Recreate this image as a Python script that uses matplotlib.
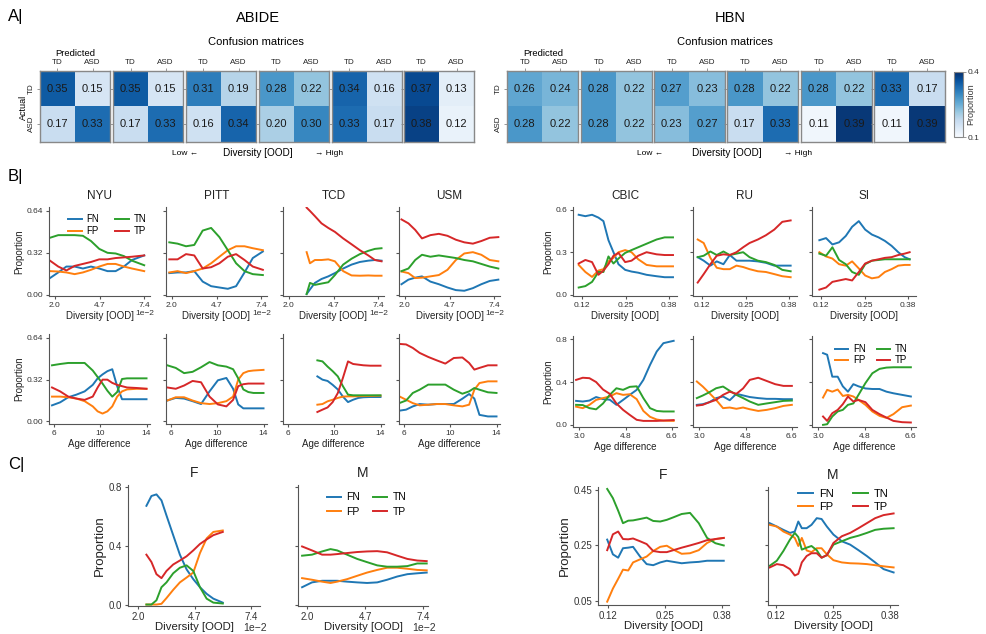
import numpy as np
import matplotlib
matplotlib.use('Agg')
import matplotlib.pyplot as plt
from matplotlib.ticker import ScalarFormatter

plt.rcParams['font.family'] = ['Liberation Sans', 'DejaVu Sans']

W, H = 987, 634
C_FN, C_FP, C_TN, C_TP = '#1f77b4', '#ff7f0e', '#2ca02c', '#d62728'
SPINE = '#555555'

# ---------------- panel A: confusion matrices (rows actual, cols predicted)
cm_labels = ['TD', 'ASD']
abide_cm = [
    [[0.35, 0.15], [0.17, 0.33]],
    [[0.35, 0.15], [0.17, 0.33]],
    [[0.31, 0.19], [0.16, 0.34]],
    [[0.28, 0.22], [0.20, 0.30]],
    [[0.34, 0.16], [0.33, 0.17]],
    [[0.37, 0.13], [0.38, 0.12]],
]
hbn_cm = [
    [[0.26, 0.24], [0.28, 0.22]],
    [[0.28, 0.22], [0.28, 0.22]],
    [[0.27, 0.23], [0.23, 0.27]],
    [[0.28, 0.22], [0.17, 0.33]],
    [[0.28, 0.22], [0.11, 0.39]],
    [[0.33, 0.17], [0.11, 0.39]],
]

# ---------------- panel B, ABIDE sites vs diversity (x in 1e-2)
nyu_div_x = [1.70, 2.20, 2.69, 3.19, 3.69, 4.18, 4.68, 5.18, 5.67, 6.17, 6.66, 7.40]
nyu_div_fn = [0.127, 0.17, 0.215, 0.215, 0.20, 0.215, 0.20, 0.18, 0.18, 0.215, 0.265, 0.30]
nyu_div_fp = [0.18, 0.177, 0.17, 0.157, 0.17, 0.19, 0.215, 0.235, 0.235, 0.215, 0.20, 0.18]
nyu_div_tn = [0.435, 0.455, 0.455, 0.455, 0.45, 0.41, 0.35, 0.32, 0.315, 0.295, 0.26, 0.225]
nyu_div_tp = [0.26, 0.215, 0.185, 0.22, 0.235, 0.25, 0.27, 0.27, 0.28, 0.285, 0.29, 0.30]

pitt_div_x = [1.84, 2.34, 2.85, 3.35, 3.86, 4.37, 4.87, 5.38, 5.88, 6.39, 6.89, 7.50]
pitt_div_fn = [0.165, 0.17, 0.17, 0.18, 0.10, 0.065, 0.055, 0.045, 0.065, 0.17, 0.28, 0.33]
pitt_div_fp = [0.17, 0.18, 0.165, 0.18, 0.20, 0.24, 0.29, 0.34, 0.37, 0.37, 0.355, 0.34]
pitt_div_tn = [0.40, 0.39, 0.37, 0.38, 0.49, 0.51, 0.44, 0.34, 0.24, 0.18, 0.157, 0.15]
pitt_div_tp = [0.27, 0.27, 0.31, 0.30, 0.20, 0.21, 0.24, 0.29, 0.31, 0.265, 0.215, 0.19]

tcd_div_x = [3.07, 3.27, 3.57, 3.97, 4.38, 4.78, 5.28, 5.79, 6.29, 6.80, 7.20, 7.60]
tcd_div_fn = [0.005, 0.04, 0.09, 0.12, 0.14, 0.165, 0.20, 0.23, 0.25, 0.26, 0.265, 0.26]
tcd_div_fp = [0.325, 0.24, 0.265, 0.265, 0.27, 0.255, 0.18, 0.147, 0.145, 0.147, 0.145, 0.145]
tcd_div_tn = [0.005, 0.09, 0.075, 0.085, 0.095, 0.15, 0.23, 0.275, 0.31, 0.335, 0.35, 0.355]
tcd_div_tp = [0.665, 0.64, 0.60, 0.545, 0.51, 0.48, 0.43, 0.385, 0.34, 0.30, 0.265, 0.255]

usm_div_x = [1.79, 2.21, 2.62, 3.03, 3.54, 4.05, 4.57, 5.08, 5.59, 6.11, 6.62, 7.13, 7.65]
usm_div_fn = [0.08, 0.115, 0.13, 0.14, 0.10, 0.08, 0.055, 0.035, 0.03, 0.05, 0.08, 0.105, 0.115]
usm_div_fp = [0.177, 0.165, 0.127, 0.13, 0.14, 0.15, 0.19, 0.265, 0.315, 0.325, 0.305, 0.265, 0.255]
usm_div_tn = [0.18, 0.20, 0.265, 0.305, 0.29, 0.30, 0.29, 0.28, 0.265, 0.255, 0.235, 0.215, 0.20]
usm_div_tp = [0.575, 0.545, 0.495, 0.43, 0.455, 0.465, 0.45, 0.42, 0.40, 0.39, 0.41, 0.435, 0.44]

# ---------------- panel B, HBN sites vs diversity
cbic_div_x = [0.110, 0.130, 0.150, 0.169, 0.184, 0.199, 0.214, 0.229, 0.249, 0.268, 0.288, 0.313, 0.343, 0.367, 0.392]
cbic_div_fn = [0.565, 0.555, 0.565, 0.545, 0.52, 0.385, 0.30, 0.215, 0.175, 0.163, 0.155, 0.14, 0.13, 0.123, 0.123]
cbic_div_fp = [0.21, 0.16, 0.125, 0.17, 0.18, 0.235, 0.26, 0.30, 0.315, 0.30, 0.25, 0.21, 0.20, 0.20, 0.20]
cbic_div_tn = [0.05, 0.06, 0.09, 0.16, 0.16, 0.27, 0.22, 0.255, 0.295, 0.315, 0.335, 0.36, 0.39, 0.405, 0.405]
cbic_div_tp = [0.22, 0.245, 0.23, 0.14, 0.17, 0.215, 0.275, 0.295, 0.23, 0.24, 0.275, 0.30, 0.285, 0.28, 0.28]

ru_div_x = [0.107, 0.125, 0.145, 0.164, 0.184, 0.203, 0.223, 0.243, 0.262, 0.287, 0.311, 0.336, 0.360, 0.385]
ru_div_fn = [0.265, 0.24, 0.205, 0.235, 0.215, 0.28, 0.24, 0.24, 0.24, 0.235, 0.225, 0.205, 0.205, 0.205]
ru_div_fp = [0.39, 0.365, 0.26, 0.19, 0.18, 0.18, 0.205, 0.195, 0.18, 0.165, 0.16, 0.145, 0.13, 0.123]
ru_div_tn = [0.265, 0.275, 0.305, 0.28, 0.305, 0.28, 0.29, 0.30, 0.265, 0.24, 0.23, 0.21, 0.175, 0.165]
ru_div_tp = [0.085, 0.145, 0.215, 0.275, 0.285, 0.28, 0.30, 0.335, 0.365, 0.39, 0.42, 0.46, 0.515, 0.525]

si_div_x = [0.115, 0.135, 0.154, 0.174, 0.194, 0.213, 0.233, 0.252, 0.272, 0.292, 0.311, 0.331, 0.351, 0.370, 0.385]
si_div_fn = [0.385, 0.40, 0.355, 0.37, 0.415, 0.48, 0.52, 0.46, 0.425, 0.405, 0.38, 0.345, 0.30, 0.265, 0.25]
si_div_fp = [0.30, 0.27, 0.255, 0.215, 0.205, 0.235, 0.185, 0.135, 0.115, 0.123, 0.16, 0.18, 0.205, 0.21, 0.21]
si_div_tn = [0.29, 0.275, 0.335, 0.245, 0.215, 0.16, 0.14, 0.215, 0.24, 0.245, 0.25, 0.25, 0.25, 0.25, 0.25]
si_div_tp = [0.035, 0.05, 0.09, 0.10, 0.11, 0.10, 0.16, 0.22, 0.24, 0.25, 0.26, 0.265, 0.28, 0.29, 0.30]

# ---------------- panel B, ABIDE sites vs age difference
nyu_age_x = [5.86, 6.56, 7.26, 7.96, 8.67, 9.37, 9.79, 10.21, 10.63, 11.05, 11.47, 11.89, 12.32, 13.16, 14.0]
nyu_age_fn = [0.123, 0.146, 0.185, 0.205, 0.23, 0.28, 0.33, 0.36, 0.385, 0.40, 0.27, 0.17, 0.17, 0.17, 0.17]
nyu_age_fp = [0.19, 0.19, 0.185, 0.175, 0.155, 0.115, 0.077, 0.06, 0.077, 0.115, 0.19, 0.23, 0.245, 0.25, 0.25]
nyu_age_tn = [0.43, 0.44, 0.448, 0.448, 0.448, 0.39, 0.34, 0.29, 0.235, 0.19, 0.225, 0.325, 0.33, 0.33, 0.33]
nyu_age_tp = [0.26, 0.23, 0.19, 0.175, 0.165, 0.19, 0.26, 0.32, 0.32, 0.295, 0.28, 0.27, 0.26, 0.256, 0.25]

pitt_age_x = [5.71, 6.44, 7.16, 7.89, 8.62, 9.35, 10.07, 10.80, 11.38, 11.82, 12.26, 12.69, 13.13, 14.0]
pitt_age_fn = [0.16, 0.18, 0.175, 0.155, 0.133, 0.23, 0.315, 0.333, 0.25, 0.13, 0.10, 0.10, 0.10, 0.10]
pitt_age_fp = [0.16, 0.185, 0.185, 0.16, 0.14, 0.133, 0.14, 0.155, 0.19, 0.32, 0.37, 0.385, 0.39, 0.395]
pitt_age_tn = [0.43, 0.41, 0.37, 0.38, 0.415, 0.455, 0.43, 0.42, 0.40, 0.33, 0.245, 0.225, 0.218, 0.218]
pitt_age_tp = [0.26, 0.25, 0.275, 0.31, 0.30, 0.19, 0.13, 0.115, 0.165, 0.27, 0.285, 0.29, 0.29, 0.29]

tcd_age_x = [8.56, 9.00, 9.44, 9.88, 10.32, 10.76, 11.20, 11.64, 12.09, 12.53, 13.11, 14.0]
tcd_age_fn = [0.345, 0.32, 0.31, 0.28, 0.245, 0.19, 0.148, 0.166, 0.18, 0.185, 0.187, 0.187]
tcd_age_fp = [0.128, 0.133, 0.154, 0.166, 0.18, 0.19, 0.192, 0.192, 0.193, 0.194, 0.195, 0.197]
tcd_age_tn = [0.468, 0.46, 0.42, 0.385, 0.345, 0.27, 0.205, 0.20, 0.20, 0.20, 0.20, 0.20]
tcd_age_tp = [0.072, 0.09, 0.107, 0.148, 0.217, 0.333, 0.46, 0.44, 0.435, 0.43, 0.427, 0.427]

usm_age_x = [5.62, 6.21, 6.79, 7.38, 8.12, 8.85, 9.59, 10.32, 11.06, 11.64, 12.09, 12.53, 13.26, 14.0]
usm_age_fn = [0.082, 0.09, 0.115, 0.133, 0.128, 0.133, 0.133, 0.133, 0.174, 0.21, 0.175, 0.05, 0.038, 0.038]
usm_age_fp = [0.192, 0.166, 0.14, 0.123, 0.128, 0.133, 0.133, 0.123, 0.115, 0.128, 0.243, 0.294, 0.307, 0.307]
usm_age_tn = [0.14, 0.16, 0.218, 0.243, 0.282, 0.282, 0.282, 0.243, 0.212, 0.23, 0.256, 0.243, 0.223, 0.218]
usm_age_tp = [0.594, 0.59, 0.563, 0.525, 0.494, 0.468, 0.443, 0.486, 0.49, 0.448, 0.397, 0.41, 0.43, 0.43]

# ---------------- panel B, HBN sites vs age difference
cbic_age_x = [2.87, 3.13, 3.39, 3.65, 3.92, 4.18, 4.44, 4.70, 4.96, 5.23, 5.49, 5.75, 6.01, 6.27, 6.67]
cbic_age_fn = [0.224, 0.218, 0.227, 0.26, 0.24, 0.235, 0.187, 0.233, 0.28, 0.327, 0.42, 0.56, 0.685, 0.763, 0.785]
cbic_age_fp = [0.17, 0.156, 0.187, 0.233, 0.25, 0.265, 0.296, 0.28, 0.286, 0.24, 0.13, 0.075, 0.05, 0.04, 0.037]
cbic_age_tn = [0.187, 0.185, 0.156, 0.145, 0.20, 0.28, 0.342, 0.327, 0.355, 0.36, 0.25, 0.156, 0.13, 0.125, 0.125]
cbic_age_tp = [0.42, 0.44, 0.436, 0.40, 0.33, 0.29, 0.20, 0.14, 0.093, 0.047, 0.037, 0.037, 0.037, 0.04, 0.045]

ru_age_x = [2.90, 3.13, 3.39, 3.65, 3.92, 4.18, 4.44, 4.70, 4.96, 5.29, 5.62, 5.95, 6.27, 6.60]
ru_age_fn = [0.187, 0.193, 0.212, 0.25, 0.265, 0.23, 0.29, 0.275, 0.26, 0.25, 0.243, 0.243, 0.24, 0.24]
ru_age_fp = [0.405, 0.358, 0.296, 0.233, 0.156, 0.162, 0.15, 0.162, 0.146, 0.13, 0.14, 0.156, 0.177, 0.187]
ru_age_tn = [0.25, 0.274, 0.305, 0.342, 0.358, 0.318, 0.28, 0.25, 0.218, 0.187, 0.20, 0.212, 0.224, 0.227]
ru_age_tp = [0.18, 0.187, 0.212, 0.233, 0.28, 0.31, 0.29, 0.34, 0.42, 0.44, 0.41, 0.38, 0.364, 0.364]

si_age_x = [3.18, 3.34, 3.54, 3.75, 3.95, 4.15, 4.36, 4.56, 4.83, 5.10, 5.38, 5.65, 5.92, 6.26, 6.60]
si_age_fn = [0.67, 0.655, 0.45, 0.45, 0.36, 0.31, 0.38, 0.36, 0.34, 0.335, 0.335, 0.31, 0.295, 0.28, 0.265]
si_age_fp = [0.255, 0.327, 0.31, 0.33, 0.27, 0.28, 0.265, 0.233, 0.187, 0.125, 0.084, 0.065, 0.10, 0.165, 0.18]
si_age_tn = [0.0, 0.006, 0.078, 0.125, 0.14, 0.187, 0.20, 0.28, 0.39, 0.482, 0.523, 0.535, 0.538, 0.538, 0.538]
si_age_tp = [0.078, 0.037, 0.109, 0.14, 0.193, 0.265, 0.218, 0.233, 0.212, 0.14, 0.10, 0.068, 0.037, 0.025, 0.022]

# ---------------- panel C, sex split vs diversity
abide_f_x = [2.40, 2.64, 2.88, 3.12, 3.36, 3.68, 4.00, 4.32, 4.64, 4.96, 5.28, 5.60, 6.05]
abide_f_fn = [0.673, 0.74, 0.751, 0.71, 0.607, 0.473, 0.34, 0.24, 0.173, 0.118, 0.073, 0.04, 0.013]
abide_f_fp = [0.0, 0.0, 0.0, 0.005, 0.044, 0.10, 0.151, 0.184, 0.218, 0.351, 0.451, 0.495, 0.505]
abide_f_tn = [0.0, 0.0, 0.029, 0.118, 0.151, 0.213, 0.251, 0.267, 0.229, 0.118, 0.04, 0.013, 0.007]
abide_f_tp = [0.34, 0.29, 0.207, 0.18, 0.229, 0.273, 0.30, 0.329, 0.369, 0.413, 0.444, 0.473, 0.495]

abide_m_x = [1.77, 2.23, 2.70, 3.09, 3.40, 3.86, 4.33, 4.79, 5.26, 5.72, 6.19, 6.66, 7.12, 7.56]
abide_m_fn = [0.118, 0.151, 0.162, 0.162, 0.162, 0.156, 0.151, 0.147, 0.151, 0.169, 0.191, 0.207, 0.213, 0.218]
abide_m_fp = [0.18, 0.169, 0.156, 0.147, 0.156, 0.173, 0.196, 0.218, 0.236, 0.251, 0.251, 0.244, 0.236, 0.233]
abide_m_tn = [0.333, 0.34, 0.362, 0.378, 0.369, 0.34, 0.311, 0.289, 0.267, 0.258, 0.258, 0.262, 0.28, 0.28]
abide_m_tp = [0.396, 0.369, 0.34, 0.34, 0.344, 0.351, 0.358, 0.362, 0.364, 0.356, 0.333, 0.311, 0.30, 0.296]

hbn_f_x = [0.118, 0.131, 0.143, 0.154, 0.166, 0.177, 0.193, 0.208, 0.223, 0.239, 0.254, 0.269, 0.288, 0.307, 0.327, 0.346, 0.365, 0.384]
hbn_f_fn = [0.271, 0.218, 0.206, 0.24, 0.242, 0.245, 0.21, 0.183, 0.179, 0.189, 0.195, 0.191, 0.186, 0.189, 0.191, 0.195, 0.195, 0.195]
hbn_f_fp = [0.048, 0.095, 0.13, 0.163, 0.16, 0.189, 0.20, 0.21, 0.23, 0.245, 0.249, 0.235, 0.22, 0.222, 0.233, 0.259, 0.273, 0.277]
hbn_f_tn = [0.453, 0.42, 0.375, 0.33, 0.339, 0.34, 0.345, 0.35, 0.338, 0.336, 0.342, 0.351, 0.363, 0.367, 0.33, 0.277, 0.258, 0.25]
hbn_f_tp = [0.233, 0.29, 0.30, 0.273, 0.272, 0.275, 0.265, 0.255, 0.23, 0.226, 0.226, 0.233, 0.242, 0.25, 0.259, 0.269, 0.273, 0.277]

hbn_m_x = [0.106, 0.122, 0.137, 0.152, 0.163, 0.171, 0.179, 0.190, 0.201, 0.213, 0.224, 0.236, 0.251, 0.270, 0.289, 0.308, 0.327, 0.346, 0.365, 0.388]
hbn_m_fn = [0.33, 0.318, 0.306, 0.295, 0.30, 0.336, 0.312, 0.312, 0.324, 0.348, 0.345, 0.318, 0.289, 0.265, 0.253, 0.233, 0.212, 0.189, 0.165, 0.153]
hbn_m_fp = [0.324, 0.318, 0.30, 0.289, 0.277, 0.248, 0.277, 0.232, 0.226, 0.24, 0.24, 0.218, 0.197, 0.189, 0.186, 0.185, 0.183, 0.179, 0.175, 0.171]
hbn_m_tn = [0.177, 0.195, 0.23, 0.271, 0.295, 0.28, 0.235, 0.242, 0.248, 0.233, 0.206, 0.215, 0.253, 0.265, 0.277, 0.285, 0.295, 0.306, 0.31, 0.312]
hbn_m_tp = [0.171, 0.183, 0.179, 0.165, 0.142, 0.148, 0.189, 0.212, 0.222, 0.222, 0.206, 0.215, 0.259, 0.283, 0.295, 0.312, 0.33, 0.348, 0.359, 0.365]


def px_axes(fig, x, y, w, h):
    return fig.add_axes([x / W, 1 - (y + h) / H, w / W, h / H])


def ftext(fig, x, y, s, **kw):
    kw.setdefault('ha', 'center')
    kw.setdefault('va', 'center')
    fig.text(x / W, 1 - y / H, s, **kw)


def draw_cm(ax, m, first):
    im = ax.imshow(np.array(m), cmap='Blues', vmin=0.1, vmax=0.4, aspect='auto')
    for i in range(2):
        for j in range(2):
            ax.text(j, i, f'{m[i][j]:.2f}', ha='center', va='center',
                    fontsize=8, color='#1a1a1a')
    ax.xaxis.tick_top()
    ax.set_xticks([0, 1])
    ax.set_xticklabels(cm_labels, fontsize=5.8, color='#222222')
    ax.set_yticks([0, 1])
    if first:
        ax.set_yticklabels(cm_labels, fontsize=5.8, rotation=90, va='center', color='#222222')
    else:
        ax.set_yticklabels([])
    ax.tick_params(length=2, width=0.6, pad=1.5, color='#888888')
    for s in ax.spines.values():
        s.set_color('#888888')
        s.set_linewidth(1.0)
    return im


def draw_lines(ax, x, fn, fp, tn, tp, scale=1.0):
    xs = np.array(x) * scale
    ax.plot(xs, fn, color=C_FN, lw=1.4, label='FN')
    ax.plot(xs, fp, color=C_FP, lw=1.4, label='FP')
    ax.plot(xs, tn, color=C_TN, lw=1.4, label='TN')
    ax.plot(xs, tp, color=C_TP, lw=1.4, label='TP')


def style(ax, xlim, xticks, xticklabels, ylim, yticks, yticklabels, first,
          xlabel, fs_tick, fs_lab, fs_ylab=None, xpad=2):
    ax.set_xlim(xlim)
    ax.set_ylim(ylim)
    ax.set_xticks(xticks)
    if xticklabels is None:
        # diversity axis in units of 1e-2, offset drawn by hand below
        fmt = ScalarFormatter()
        fmt.set_powerlimits((0, 0))
        ax.xaxis.set_major_formatter(fmt)
        ax.xaxis.offsetText.set_visible(False)
    else:
        ax.set_xticklabels(xticklabels)
    ax.set_yticks(yticks)
    if first:
        ax.set_yticklabels(yticklabels)
        ax.set_ylabel('Proportion', fontsize=fs_ylab or fs_lab, labelpad=2, color='#222222')
    else:
        ax.set_yticklabels([])
    ax.set_xlabel(xlabel, fontsize=fs_lab, labelpad=xpad, color='#222222')
    ax.spines['top'].set_visible(False)
    ax.spines['right'].set_visible(False)
    for s in ('left', 'bottom'):
        ax.spines[s].set_color(SPINE)
        ax.spines[s].set_linewidth(0.8)
    ax.tick_params(length=2.5, width=0.8, pad=1.5, color=SPINE,
                   labelsize=fs_tick, labelcolor='#333333')


def offset_label(ax, x, y, fs, va='top'):
    ax.text(x, y, '1e\u22122', transform=ax.transAxes, ha='right', va=va,
            fontsize=fs, color='#333333')


def legend(ax, anchor, fs, spacing, colsp):
    ax.legend(loc='upper left', bbox_to_anchor=anchor, ncol=2, frameon=False,
              fontsize=fs, borderpad=0, borderaxespad=0, handlelength=1.4,
              handletextpad=0.5, columnspacing=colsp, labelspacing=spacing)


fig = plt.figure(figsize=(W / 100, H / 100), dpi=100)

# ---------------- panel A
ftext(fig, 8, 17, 'A|', fontsize=12, ha='left')
ftext(fig, 258, 18, 'ABIDE', fontsize=10.5)
ftext(fig, 730, 18, 'HBN', fontsize=10.5)
ftext(fig, 256, 42, 'Confusion matrices', fontsize=8)
ftext(fig, 725, 42, 'Confusion matrices', fontsize=8)
ftext(fig, 75, 53, 'Predicted', fontsize=6.8)
ftext(fig, 543, 53, 'Predicted', fontsize=6.8)
ftext(fig, 23, 107, 'Actual', fontsize=6.5, rotation=90)

abide_left = [40, 113, 186, 259, 332, 404]
hbn_left = [507, 581, 654, 727, 801, 874]
for i, m in enumerate(abide_cm):
    ax = px_axes(fig, abide_left[i], 71, 70, 71)
    draw_cm(ax, m, i == 0)
for i, m in enumerate(hbn_cm):
    ax = px_axes(fig, hbn_left[i], 71, 71, 71)
    im = draw_cm(ax, m, i == 0)

cax = px_axes(fig, 954, 72, 9, 65)
cb = fig.colorbar(im, cax=cax, ticks=[0.1, 0.4])
cb.ax.set_yticklabels(['0.1', '0.4'])
cb.ax.tick_params(labelsize=6, length=2, width=0.6, pad=1, color='#888888', labelcolor='#333333')
cb.outline.set_edgecolor('#888888')
cb.outline.set_linewidth(0.8)
cax.text(1.85, 0.5, 'Proportion', transform=cax.transAxes, rotation=90,
         ha='center', va='center', fontsize=6.5, color='#333333')

for xl, xc, xr in ((185, 258, 329), (650, 727, 798)):
    ftext(fig, xl, 153, 'Low \u2190', fontsize=6)
    ftext(fig, xc, 153, 'Diversity [OOD]', fontsize=7.2)
    ftext(fig, xr, 153, '\u2192 High', fontsize=6)

# ---------------- panel B
ftext(fig, 8, 177, 'B|', fontsize=12, ha='left')

abide_sites = ['NYU', 'PITT', 'TCD', 'USM']
abide_div = [
    (nyu_div_x, nyu_div_fn, nyu_div_fp, nyu_div_tn, nyu_div_tp),
    (pitt_div_x, pitt_div_fn, pitt_div_fp, pitt_div_tn, pitt_div_tp),
    (tcd_div_x, tcd_div_fn, tcd_div_fp, tcd_div_tn, tcd_div_tp),
    (usm_div_x, usm_div_fn, usm_div_fp, usm_div_tn, usm_div_tp),
]
abide_age = [
    (nyu_age_x, nyu_age_fn, nyu_age_fp, nyu_age_tn, nyu_age_tp),
    (pitt_age_x, pitt_age_fn, pitt_age_fp, pitt_age_tn, pitt_age_tp),
    (tcd_age_x, tcd_age_fn, tcd_age_fp, tcd_age_tn, tcd_age_tp),
    (usm_age_x, usm_age_fn, usm_age_fp, usm_age_tn, usm_age_tp),
]
hbn_sites = ['CBIC', 'RU', 'SI']
hbn_div = [
    (cbic_div_x, cbic_div_fn, cbic_div_fp, cbic_div_tn, cbic_div_tp),
    (ru_div_x, ru_div_fn, ru_div_fp, ru_div_tn, ru_div_tp),
    (si_div_x, si_div_fn, si_div_fp, si_div_tn, si_div_tp),
]
hbn_age = [
    (cbic_age_x, cbic_age_fn, cbic_age_fp, cbic_age_tn, cbic_age_tp),
    (ru_age_x, ru_age_fn, ru_age_fp, ru_age_tn, ru_age_tp),
    (si_age_x, si_age_fn, si_age_fp, si_age_tn, si_age_tp),
]

left_x = [49, 166, 283, 399]
right_x = [573, 693, 812]

for i, site in enumerate(abide_sites):
    ax = px_axes(fig, left_x[i], 207, 101, 89)
    draw_lines(ax, *abide_div[i], scale=1e-2)
    style(ax, (0.0164, 0.0775), [0.020, 0.047, 0.074], None, (-0.01, 0.67),
          [0, 0.32, 0.64], ['0.00', '0.32', '0.64'], i == 0, 'Diversity [OOD]', 6, 7)
    offset_label(ax, 1.04, -0.155, 6)
    ax.set_title(site, fontsize=8.5, pad=6, color='#222222')
    if i == 0:
        legend(ax, (0.19, 0.92), 7, 0.22, 1.6)

    ax = px_axes(fig, left_x[i], 334, 101, 90)
    draw_lines(ax, *abide_age[i])
    style(ax, (5.6, 14.3), [6, 10, 14], ['6', '10', '14'], (-0.02, 0.67),
          [0, 0.32, 0.64], ['0.00', '0.32', '0.64'], i == 0, 'Age difference', 6, 7)

for i, site in enumerate(hbn_sites):
    ax = px_axes(fig, right_x[i], 207, 104, 89)
    draw_lines(ax, *hbn_div[i])
    style(ax, (0.093, 0.404), [0.12, 0.25, 0.38], ['0.12', '0.25', '0.38'], (-0.01, 0.62),
          [0, 0.3, 0.6], ['0.0', '0.3', '0.6'], i == 0, 'Diversity [OOD]', 6, 7)
    ax.set_title(site, fontsize=8.5, pad=6, color='#222222')

    ax = px_axes(fig, right_x[i], 336, 104, 91)
    draw_lines(ax, *hbn_age[i])
    style(ax, (2.75, 6.8), [3.0, 4.8, 6.6], ['3.0', '4.8', '6.6'], (-0.02, 0.83),
          [0, 0.4, 0.8], ['0.0', '0.4', '0.8'], i == 0, 'Age difference', 6, 7)
    if i == 2:
        legend(ax, (0.22, 0.91), 7, 0.12, 1.1)

# ---------------- panel C
ftext(fig, 8, 464, 'C|', fontsize=12, ha='left')

ax = px_axes(fig, 128, 485, 132, 121)
draw_lines(ax, abide_f_x, abide_f_fn, abide_f_fp, abide_f_tn, abide_f_tp, scale=1e-2)
style(ax, (0.0152, 0.0783), [0.020, 0.047, 0.074], None, (-0.01, 0.815),
      [0, 0.4, 0.8], ['0.0', '0.4', '0.8'], True, 'Diversity [OOD]', 7, 8.2, 9.5, xpad=0)
offset_label(ax, 1.055, -0.178, 7.5, va='center')
ax.set_title('F', fontsize=10, pad=6, color='#222222')

ax = px_axes(fig, 298, 485, 130, 121)
draw_lines(ax, abide_m_x, abide_m_fn, abide_m_fp, abide_m_tn, abide_m_tp, scale=1e-2)
style(ax, (0.0158, 0.0762), [0.020, 0.047, 0.074], None, (-0.01, 0.815),
      [0, 0.4, 0.8], ['0.0', '0.4', '0.8'], False, 'Diversity [OOD]', 7, 8.2, xpad=0)
offset_label(ax, 1.06, -0.178, 7.5, va='center')
ax.set_title('M', fontsize=10, pad=6, color='#222222')
legend(ax, (0.22, 0.94), 7.5, 0.42, 1.2)

ax = px_axes(fig, 598, 487, 131, 118)
draw_lines(ax, hbn_f_x, hbn_f_fn, hbn_f_fp, hbn_f_tn, hbn_f_tp)
style(ax, (0.097, 0.396), [0.12, 0.25, 0.38], ['0.12', '0.25', '0.38'], (0.036, 0.46),
      [0.05, 0.25, 0.45], ['0.05', '0.25', '0.45'], True, 'Diversity [OOD]', 7, 8.2, 9.5, xpad=0)
ax.set_title('F', fontsize=10, pad=6, color='#222222')

ax = px_axes(fig, 768, 487, 130, 118)
draw_lines(ax, hbn_m_x, hbn_m_fn, hbn_m_fp, hbn_m_tn, hbn_m_tp)
style(ax, (0.102, 0.398), [0.12, 0.25, 0.38], ['0.12', '0.25', '0.38'], (0.036, 0.46),
      [0.05, 0.25, 0.45], ['0.05', '0.25', '0.45'], False, 'Diversity [OOD]', 7, 8.2, xpad=0)
ax.set_title('M', fontsize=10, pad=6, color='#222222')
legend(ax, (0.23, 0.98), 8, 0.2, 1.7)

fig.savefig('out.png', dpi=100, facecolor='white')
